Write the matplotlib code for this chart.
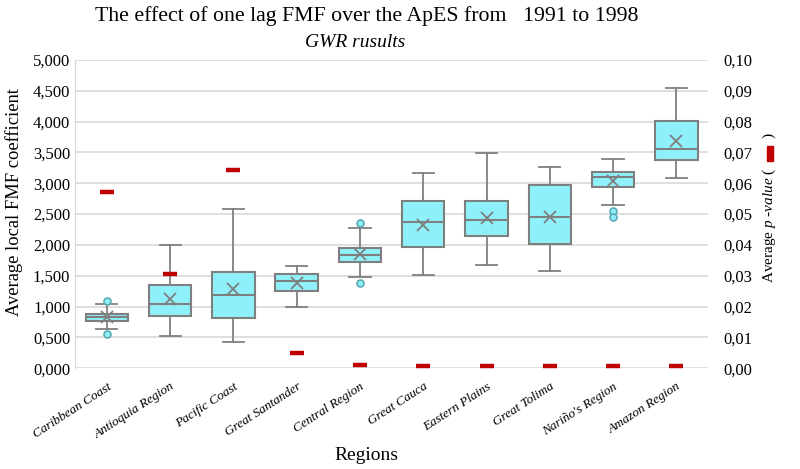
import matplotlib.pyplot as plt
from matplotlib.patches import Rectangle
from matplotlib.ticker import FuncFormatter

plt.rcParams['font.family'] = ['Liberation Serif', 'DejaVu Serif']
plt.rcParams['mathtext.fontset'] = 'custom'
plt.rcParams['mathtext.it'] = 'Liberation Serif:italic'
plt.rcParams['mathtext.rm'] = 'Liberation Serif'

regions = ['Caribbean Coast', 'Antioquia Region', 'Pacific Coast', 'Great Santander',
           'Central Region', 'Great Cauca', 'Eastern Plains', 'Great Tolima',
           "Nariño's Region", 'Amazon Region']

# box statistics of the local FMF coefficient
whislo = [0.630, 0.525, 0.427, 0.990, 1.483, 1.515, 1.667, 1.569, 2.641, 3.089]
q1     = [0.763, 0.844, 0.806, 1.250, 1.726, 1.959, 2.137, 2.013, 2.933, 3.377]
med    = [0.823, 1.039, 1.180, 1.418, 1.829, 2.365, 2.397, 2.457, 3.101, 3.555]
q3     = [0.872, 1.342, 1.558, 1.521, 1.953, 2.711, 2.711, 2.971, 3.182, 4.005]
whishi = [1.040, 2.002, 2.581, 1.661, 2.278, 3.166, 3.485, 3.268, 3.398, 4.540]
means  = [0.830, 1.115, 1.277, 1.385, 1.851, 2.321, 2.430, 2.446, 3.041, 3.685]
fliers = [[1.088, 0.552], [], [], [], [2.354, 1.374], [], [], [], [2.554, 2.457], []]

# average p-value per region
pvalue = [0.0572, 0.0307, 0.0642, 0.0050, 0.0010, 0.0008, 0.0008, 0.0008, 0.0007, 0.0007]

stats = []
for i, name in enumerate(regions):
    stats.append(dict(label=name, whislo=whislo[i], q1=q1[i], med=med[i], q3=q3[i],
                      whishi=whishi[i], mean=means[i], fliers=fliers[i]))

fig = plt.figure(figsize=(8, 4.69), dpi=100)
ax = fig.add_axes([0.094, 0.215, 0.791, 0.657])

edge = '#7f7f7f'
ax.bxp(stats, positions=range(len(regions)), widths=0.67, patch_artist=True,
       showmeans=True, meanline=False,
       boxprops=dict(facecolor='#8ef1fa', edgecolor=edge, linewidth=1.5),
       medianprops=dict(color=edge, linewidth=1.5),
       whiskerprops=dict(color=edge, linewidth=1.3),
       capprops=dict(color=edge, linewidth=1.3),
       meanprops=dict(marker='x', markeredgecolor=edge, markersize=9, markeredgewidth=1.3),
       flierprops=dict(marker='o', markerfacecolor='#8ef1fa', markeredgecolor='#5aa9b5',
                       markersize=5, markeredgewidth=1.2),
       zorder=3)

ax.set_ylim(0, 5)
ax.set_xlim(-0.5, len(regions) - 0.5)
ax.set_yticks([i * 0.5 for i in range(11)])
ax.yaxis.set_major_formatter(FuncFormatter(lambda v, p: f'{v:.3f}'.replace('.', ',')))
ax.grid(axis='y', color='#d9d9d9', linewidth=1.2, zorder=0)
ax.set_axisbelow(True)
for s in ['top', 'right', 'bottom']:
    ax.spines[s].set_visible(False)
ax.spines['left'].set_color('#d9d9d9')
ax.tick_params(length=0, labelsize=12)
ax.set_xticks(range(len(regions)))
ax.set_xticklabels(regions, rotation=33, ha='right', rotation_mode='anchor',
                   fontsize=9.5, style='italic')
ax.tick_params(axis='x', pad=9)
ax.set_ylabel('Average local FMF coefficient', fontsize=13.3)
ax.yaxis.set_label_coords(-0.082, 0.54)
ax.set_xlabel('Regions', fontsize=14)
ax.xaxis.set_label_coords(0.46, -0.255)

ax2 = ax.twinx()
ax2.set_ylim(0, 0.10)
ax2.set_yticks([i * 0.01 for i in range(11)])
ax2.yaxis.set_major_formatter(FuncFormatter(lambda v, p: f'{v:.2f}'.replace('.', ',')))
for s in ax2.spines.values():
    s.set_visible(False)
ax2.tick_params(length=0, labelsize=12, pad=11)
ax2.plot(range(len(regions)), pvalue, linestyle='none', marker='_', color='#c00000',
         markersize=10.5, markeredgewidth=3.2, zorder=5)
gap = '        '
ax2.set_ylabel('Average $\\mathit{p}$ -$\\mathit{value}$ (' + gap + ')', fontsize=11)
ax2.yaxis.set_label_coords(1.084, 0.52)

# red key inside the parentheses of the right label
fig.canvas.draw()
r = fig.canvas.get_renderer()
t1 = fig.text(0, 0, ')', fontsize=11)
t2 = fig.text(0, 0, gap + ')', fontsize=11)
w1 = t1.get_window_extent(r).width
w2 = t2.get_window_extent(r).width
t1.remove()
t2.remove()
lab = ax2.yaxis.label.get_window_extent(r)
cx = (lab.x0 + lab.x1) / 2
cy = lab.y1 - w1 - (w2 - w1) / 2
W, H = fig.bbox.width, fig.bbox.height
fig.patches.append(Rectangle(((cx - 2.8) / W, (cy - 7.5) / H), 5.6 / W, 15 / H,
                             transform=fig.transFigure, color='#c00000'))

fig.text(0.459, 0.965, 'The effect of one lag FMF over the ApES from   1991 to 1998',
         ha='center', va='center', fontsize=15.7)
fig.text(0.444, 0.91, 'GWR rusults', ha='center', va='center', fontsize=14, style='italic')

fig.savefig('out.png', dpi=100)
